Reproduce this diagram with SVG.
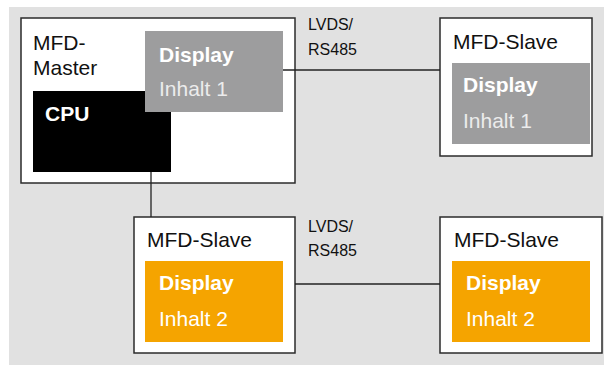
<svg xmlns="http://www.w3.org/2000/svg" width="604" height="365" viewBox="0 0 604 365">
<style>
.box{fill:#ffffff;stroke:#2b2b2b;stroke-width:1.5}
.gd{fill:#9d9d9e}
.od{fill:#f5a400}
.lbl{font-family:"Liberation Sans","DejaVu Sans",sans-serif;font-size:21px;fill:#111}
.b{font-family:"Liberation Sans","DejaVu Sans",sans-serif;font-size:21px;font-weight:bold;fill:#ffffff}
.gt{font-family:"Liberation Sans","DejaVu Sans",sans-serif;font-size:21px;fill:#ececec}
.wt{font-family:"Liberation Sans","DejaVu Sans",sans-serif;font-size:21px;fill:#ffffff}
.bus{font-family:"Liberation Sans","DejaVu Sans",sans-serif;font-size:16px;fill:#111}
.ln{stroke:#222;stroke-width:1.3;fill:none}
</style>
<rect x="9" y="7" width="595" height="358" fill="#e1e1e1"/>
<g id="master">
<rect class="box" x="21" y="18" width="274" height="165"/>
<text class="lbl" x="33" y="50">MFD-</text>
<text class="lbl" x="33" y="75">Master</text>
<g id="cpu">
<rect x="33" y="91" width="138" height="81" fill="#000"/>
<text class="b" x="45" y="121">CPU</text>
</g>
<g id="master-display">
<rect class="gd" x="145" y="31" width="138" height="81"/>
<text class="b" x="159" y="62">Display</text>
<text class="gt" x="159" y="96">Inhalt 1</text>
</g>
</g>
<g id="slave1">
<rect class="box" x="440" y="18" width="152" height="138"/>
<text class="lbl" x="453" y="49">MFD-Slave</text>
<rect class="gd" x="452" y="63" width="138" height="81"/>
<text class="b" x="463" y="92">Display</text>
<text class="gt" x="463" y="128">Inhalt 1</text>
</g>
<g id="slave2">
<rect class="box" x="134" y="217" width="161" height="136"/>
<text class="lbl" x="147" y="247">MFD-Slave</text>
<rect class="od" x="145" y="261" width="138" height="81"/>
<text class="b" x="159" y="290">Display</text>
<text class="wt" x="159" y="326">Inhalt 2</text>
</g>
<g id="slave3">
<rect class="box" x="440" y="217" width="162" height="136"/>
<text class="lbl" x="454" y="247">MFD-Slave</text>
<rect class="od" x="452" y="261" width="138" height="81"/>
<text class="b" x="466" y="290">Display</text>
<text class="wt" x="466" y="326">Inhalt 2</text>
</g>
<g id="connectors">
<line class="ln" x1="151" y1="172" x2="151" y2="217"/>
<line class="ln" x1="283" y1="70" x2="440" y2="70"/>
<line class="ln" x1="295" y1="284" x2="440" y2="284"/>
<text class="bus" x="308" y="30">LVDS/</text>
<text class="bus" x="308" y="55">RS485</text>
<text class="bus" x="308" y="232">LVDS/</text>
<text class="bus" x="308" y="256">RS485</text>
</g>
</svg>
